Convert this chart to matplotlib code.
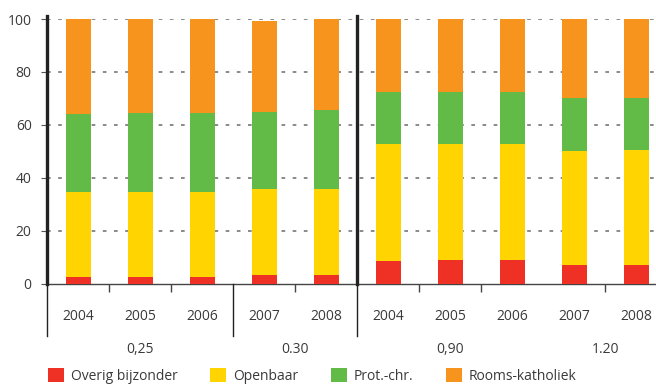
import matplotlib.pyplot as plt
from matplotlib.patches import Patch
from matplotlib.transforms import blended_transform_factory

plt.rcParams["font.family"] = ["Open Sans", "DejaVu Sans"]

years = ["2004", "2005", "2006", "2007", "2008", "2004", "2005", "2006", "2007", "2008"]
groups = ["0,25", "0.30", "0,90", "1.20"]
group_sizes = [3, 2, 3, 2]

overig = [2.5, 2.5, 2.5, 3.2, 3.2, 8.6, 8.9, 8.9, 7.0, 7.0]
openbaar = [32.0, 32.0, 32.0, 32.5, 32.5, 44.0, 43.7, 43.7, 43.0, 43.4]
prot_chr = [29.5, 29.8, 29.8, 29.0, 29.9, 19.8, 19.8, 19.8, 20.1, 19.7]
rooms_kath = [36.0, 35.7, 35.7, 34.7, 34.4, 27.6, 27.6, 27.6, 29.9, 29.9]

series = [
    ("Overig bijzonder", overig, "#ee3124"),
    ("Openbaar", openbaar, "#ffd400"),
    ("Prot.-chr.", prot_chr, "#62bb46"),
    ("Rooms-katholiek", rooms_kath, "#f7941d"),
]

text_color = "#3a3a3a"

fig = plt.figure(figsize=(6.56, 3.85), dpi=100)
ax = fig.add_axes([47 / 656, 101.5 / 385, 609 / 656, 264.5 / 385])

x = list(range(len(years)))
bottom = [0.0] * len(years)
for name, values, color in series:
    ax.bar(x, values, width=0.4, bottom=bottom, color=color, zorder=3)
    bottom = [b + v for b, v in zip(bottom, values)]

ax.set_xlim(-0.508, 9.315)
ax.set_ylim(0, 100)
ax.set_yticks([0, 20, 40, 60, 80, 100])
ax.tick_params(axis="y", length=4, width=0.8, color="#555555", pad=7,
               labelsize=10, labelcolor=text_color)
for y in [20, 40, 60, 80, 100]:
    ax.axhline(y, color="#777777", linewidth=1.2, linestyle=(0, (2.2, 4.5)), zorder=1)

for side in ["top", "right", "left"]:
    ax.spines[side].set_visible(False)
ax.spines["bottom"].set_color("#444444")
ax.spines["bottom"].set_linewidth(1.0)

trans = blended_transform_factory(ax.transData, ax.transAxes)

# group boundaries: thick above the axis, thin below it
edges = [-0.5]
for size in group_sizes:
    edges.append(edges[-1] + size)
for edge in edges[:3]:
    ax.plot([edge, edge], [-0.2, 0], transform=trans, color="#222222",
            linewidth=1.0, clip_on=False, zorder=4)
for edge in [edges[0], edges[2]]:
    ax.plot([edge, edge], [0, 1.01], transform=trans, color="#222222",
            linewidth=2.4, clip_on=False, zorder=4)

# short ticks between years inside a group
inner = [i + 0.5 for i in range(len(years) - 1) if i + 0.5 not in edges]
ax.set_xticks(inner, minor=True)
ax.set_xticks([])
ax.tick_params(axis="x", which="minor", length=6, width=1.0, color="#444444")

for xi, year in zip(x, years):
    ax.text(xi, -0.125, year, transform=trans, ha="center", va="center",
            fontsize=10, color=text_color)

for label, start, end in zip(groups, edges[:-1], edges[1:]):
    ax.text((start + end) / 2, -0.248, label, transform=trans, ha="center",
            va="center", fontsize=10, color=text_color)

handles = [Patch(facecolor=color, label=name) for name, _, color in series]
fig.legend(handles=handles, loc="center left", bbox_to_anchor=(48 / 656, 9 / 385),
           ncol=4, frameon=False, fontsize=10, handlelength=1.15, handleheight=1.15,
           handletextpad=0.5, columnspacing=2.35, borderpad=0, borderaxespad=0,
           labelcolor=text_color)

fig.savefig("out.png", dpi=100)
